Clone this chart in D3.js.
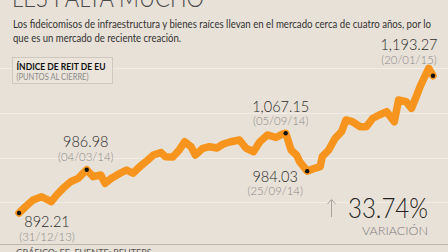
<!DOCTYPE html>
<html>
<head>
<meta charset="utf-8">
<script src="https://cdn.jsdelivr.net/npm/d3@7"></script>
<style>
  html, body { margin: 0; padding: 0; background: #E8E1D7; }
  svg { display: block; }
</style>
</head>
<body>
<svg id="chart" width="448" height="252"></svg>
<script>
// ---- data ----
const dates = ["2013-12-31","2014-01-06","2014-01-13","2014-01-21","2014-01-27","2014-01-30","2014-02-04","2014-02-10","2014-02-17","2014-02-24","2014-02-27","2014-03-04","2014-03-10","2014-03-17","2014-03-21","2014-03-27","2014-04-04","2014-04-10","2014-04-16","2014-04-22","2014-04-28","2014-05-05","2014-05-12","2014-05-16","2014-05-23","2014-05-29","2014-06-03","2014-06-09","2014-06-13","2014-06-20","2014-06-26","2014-07-03","2014-07-09","2014-07-15","2014-07-24","2014-07-30","2014-08-06","2014-08-12","2014-08-19","2014-08-27","2014-09-02","2014-09-05","2014-09-10","2014-09-15","2014-09-18","2014-09-25","2014-10-02","2014-10-07","2014-10-09","2014-10-15","2014-10-21","2014-10-27","2014-10-31","2014-11-06","2014-11-13","2014-11-19","2014-11-25","2014-12-01","2014-12-08","2014-12-15","2014-12-19","2014-12-26","2014-12-31","2015-01-05","2015-01-08","2015-01-13","2015-01-16","2015-01-20"];
const values = [892.21,906.0,920.7,927.9,920.7,917.0,931.7,946.4,960.8,968.3,975.5,986.98,971.8,975.5,957.3,968.3,979.3,986.5,979.3,993.1,1004.7,1019.4,1024.9,1015.7,1015.0,1030.4,1048.6,1037.6,1019.4,1034.1,1037.6,1034.7,1043.5,1047.9,1052.3,1034.7,1026.6,1048.6,1063.3,1057.8,1065.4,1067.15,1030.4,1019.4,1004.7,984.03,990.2,993.7,1015.7,1030.4,1056.0,1070.5,1096.2,1092.4,1081.5,1081.5,1099.9,1107.1,1114.4,1092.4,1140.0,1136.3,1121.8,1151.0,1169.2,1194.8,1209.5,1193.27];

const markDates  = ["2013-12-31","2014-03-04","2014-09-05","2014-09-25","2015-01-20"];
const markValues = [892.21, 986.98, 1067.15, 984.03, 1193.27];
const markValueLabels = ["892.21","986.98","1,067.15","984.03","1,193.27"];
const markDateLabels  = ["(31/12/13)","(04/03/14)","(05/09/14)","(25/09/14)","(20/01/15)"];

const gridValues = [916, 1013, 1111, 1210];

const titleText = "LES FALTA MUCHO";
const subtitleLines = [
  "Los fideicomisos de infraestructura y bienes raíces llevan en el mercado cerca de cuatro años, por lo",
  "que es un mercado de reciente creación."
];
const legendTitle = "ÍNDICE DE REIT DE EU";
const legendSub = "(PUNTOS AL CIERRE)";
const changeText = "33.74%";
const changeLabel = "VARIACIÓN";
const footerText = "GRÁFICO: EE. FUENTE: REUTERS";

// ---- layout (positions / styles) ----
const labelOffsets = [
  {dx: 28, vy: 14, dy: 28},
  {dx: -1, vy: -23, dy: -9},
  {dx: -5, vy: -21, dy: -8},
  {dx: -32, vy: 11, dy: 24},
  {dx: -24, vy: -26, dy: -12}
];

const parse = d3.timeParse("%Y-%m-%d");
const data = dates.map((d, i) => ({date: parse(d), value: values[i]}));
const marks = markDates.map((d, i) => ({date: parse(d), value: markValues[i], vl: markValueLabels[i], dl: markDateLabels[i], off: labelOffsets[i]}));

const svg = d3.select("#chart");
const W = 448, H = 252;
const font = "Lato, 'Open Sans', sans-serif";

function squeeze(sel, k) {
  sel.each(function() {
    const w = this.getComputedTextLength();
    d3.select(this).attr("textLength", w * k).attr("lengthAdjust", "spacingAndGlyphs");
  });
}

svg.append("rect").attr("width", W).attr("height", H).attr("fill", "#E8E1D7");

const x = d3.scaleTime().domain([parse("2013-12-31"), parse("2015-01-20")]).range([19, 433]);
const y = d3.scaleLinear().domain([892.21, 1193.27]).range([213, 75.7]);

// gridlines
svg.append("g").selectAll("line").data(gridValues).join("line")
  .attr("x1", 0).attr("x2", W)
  .attr("y1", d => Math.round(y(d)) + 0.5).attr("y2", d => Math.round(y(d)) + 0.5)
  .attr("stroke", "#F2EDE6").attr("stroke-width", 1);

// title (cut off at top)
svg.append("text").attr("x", 12).attr("y", 7)
  .attr("font-family", font).attr("font-size", 26).attr("font-weight", 300)
  .attr("fill", "#4a4a4a").attr("textLength", 192).attr("lengthAdjust", "spacingAndGlyphs")
  .text(titleText);

// subtitle
svg.append("g").selectAll("text").data(subtitleLines).join("text")
  .attr("x", 13).attr("y", (d, i) => 28 + i * 13.5)
  .attr("font-family", font).attr("font-size", 11).attr("fill", "#333")
  .attr("textLength", (d, i) => i === 0 ? 418 : 168).attr("lengthAdjust", "spacingAndGlyphs")
  .text(d => d);

// legend box
svg.append("rect").attr("x", 12.5).attr("y", 57.5).attr("width", 100).attr("height", 26)
  .attr("fill", "#EAE4DB").attr("stroke", "#CFC8BE").attr("stroke-width", 1);
svg.append("text").attr("x", 16.5).attr("y", 70)
  .attr("font-family", font).attr("font-size", 9).attr("font-weight", 700).attr("fill", "#111")
  .attr("textLength", 89).attr("lengthAdjust", "spacingAndGlyphs").text(legendTitle);
svg.append("text").attr("x", 16.5).attr("y", 79.5)
  .attr("font-family", font).attr("font-size", 8.5).attr("fill", "#8a8a8a")
  .attr("textLength", 72).attr("lengthAdjust", "spacingAndGlyphs").text(legendSub);

// line
const line = d3.line().x(d => x(d.date)).y(d => y(d.value)).curve(d3.curveLinear);
svg.append("path").datum(data).attr("d", line)
  .attr("fill", "none").attr("stroke", "#F7941D").attr("stroke-width", 7.5)
  .attr("stroke-linejoin", "round").attr("stroke-linecap", "round");

// markers
svg.append("g").selectAll("circle").data(marks).join("circle")
  .attr("cx", d => x(d.date)).attr("cy", d => y(d.value)).attr("r", 2.2).attr("fill", "#111");

// labels
const lg = svg.append("g").attr("font-family", font).attr("text-anchor", "middle");
lg.selectAll("text.v").data(marks).join("text").attr("class", "v")
  .attr("x", d => x(d.date) + d.off.dx).attr("y", d => y(d.value) + d.off.vy)
  .attr("font-size", 16.5).attr("font-weight", 300).attr("fill", "#2b2b2b").text(d => d.vl)
  .call(squeeze, 0.88);
lg.selectAll("text.d").data(marks).join("text").attr("class", "d")
  .attr("x", d => x(d.date) + d.off.dx).attr("y", d => y(d.value) + d.off.dy)
  .attr("font-size", 12).attr("font-weight", 300).attr("fill", "#8a8a8a").text(d => d.dl)
  .call(squeeze, 0.95);

// variation
const ag = svg.append("g").attr("stroke", "#a9a39b").attr("stroke-width", 1).attr("fill", "none");
ag.append("line").attr("x1", 331.5).attr("x2", 331.5).attr("y1", 200).attr("y2", 217);
ag.append("polyline").attr("points", "327.5,204 331.5,199.5 335.5,204");

svg.append("text").attr("x", 428).attr("y", 218).attr("text-anchor", "end")
  .attr("font-family", font).attr("font-size", 27).attr("font-weight", 300).attr("fill", "#222")
  .attr("textLength", 80).attr("lengthAdjust", "spacingAndGlyphs")
  .text(changeText);
svg.append("text").attr("x", 428).attr("y", 234.5).attr("text-anchor", "end")
  .attr("font-family", font).attr("font-size", 12.5).attr("font-weight", 300).attr("fill", "#7a7a7a")
  .attr("textLength", 66).attr("lengthAdjust", "spacingAndGlyphs")
  .text(changeLabel);

// separator and footer
svg.append("line").attr("x1", 0).attr("x2", W).attr("y1", 244.5).attr("y2", 244.5)
  .attr("stroke", "#BDB6AC").attr("stroke-width", 1);
svg.append("text").attr("x", 16).attr("y", 256)
  .attr("font-family", font).attr("font-size", 9).attr("fill", "#555")
  .text(footerText);
</script>
</body>
</html>
